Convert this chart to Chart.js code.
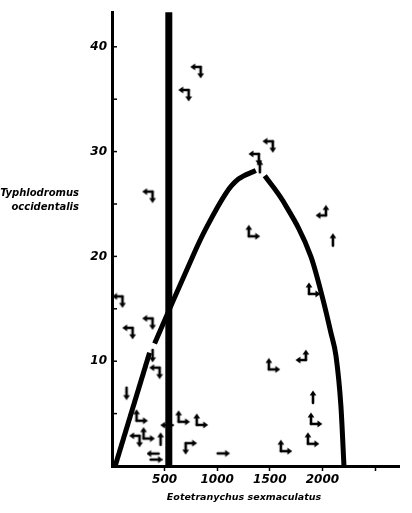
<!DOCTYPE html>
<html>
<head>
<meta charset="utf-8">
<script src="https://cdn.jsdelivr.net/npm/chart.js@4"></script>
<style>
body{margin:0;background:#fff}
canvas{display:block}
</style>
</head>
<body>
<canvas id="c" width="412" height="513"></canvas>
<script>
// prey (x) / predator (y) phase plot
var xTicks = [500, 1000, 1500, 2000, 2500];
var yTicks = [5, 10, 15, 20, 25, 30, 35, 40];

// curve pieces (broken where the direction arrows sit)
var riseX = [30, 357];
var riseY = [0, 10.8];
var capX = [405, 767, 890, 1081, 1205, 1367];
var capY = [11.7, 20, 22.6, 26.0, 27.4, 28.2];
var fallX = [1452, 1624, 1890, 2005, 2081, 2129, 2176, 2205];
var fallY = [27.7, 25.3, 20, 15.9, 12.7, 10.5, 5.7, 0];

// limit line on prey axis
var limitX = 540;

// observations with direction-of-change arrows
var markX = [814, 700, 357, 1367, 1500, 1405, 1338, 2005, 2100, 1910, 1529, 1814, 1910, 1929, 1643, 1900,
             71, 357, 167, 386, 424, 138, 271, 233, 338, 462, 405, 529, 671, 843, 738, 1052];
var markY = [37.7, 35.5, 25.8, 29.4, 30.6, 28.5, 22.3, 24.2, 21.5, 16.8, 9.6, 10.4, 6.5, 4.4, 1.8, 2.5,
             15.8, 13.7, 12.8, 10.6, 9.0, 7.0, 4.7, 2.5, 3.0, 2.5, 0.9, 3.9, 4.6, 4.3, 1.8, 1.2];
var markType = ['ld', 'ld', 'ld', 'ld', 'ld', 'u', 'ur', 'ul', 'u', 'ur', 'ur', 'ul', 'u', 'ur', 'ur', 'ur',
                'ld', 'ld', 'ld', 'd', 'ld', 'd', 'ur', 'ld', 'ur', 'u', 'lr', 'l', 'ur', 'ur', 'rd', 'r'];

function zip(xs, ys){ return xs.map(function(v, i){ return {x: v, y: ys[i]}; }); }

// arrow glyphs
function head(g, x, y, dir){
  var s = 3.4;
  g.beginPath();
  if(dir=='u'){ g.moveTo(x, y-s); g.lineTo(x-s, y+1.5); g.lineTo(x+s, y+1.5); }
  if(dir=='d'){ g.moveTo(x, y+s); g.lineTo(x-s, y-1.5); g.lineTo(x+s, y-1.5); }
  if(dir=='l'){ g.moveTo(x-s, y); g.lineTo(x+1.5, y-s); g.lineTo(x+1.5, y+s); }
  if(dir=='r'){ g.moveTo(x+s, y); g.lineTo(x-1.5, y-s); g.lineTo(x-1.5, y+s); }
  g.closePath(); g.fill();
}
function seg(g, x1, y1, x2, y2){ g.beginPath(); g.moveTo(x1, y1); g.lineTo(x2, y2); g.stroke(); }
function glyph(t){
  var c = document.createElement('canvas');
  c.width = 16; c.height = 16;
  var g = c.getContext('2d');
  g.strokeStyle = '#000'; g.fillStyle = '#000'; g.lineWidth = 2.6; g.lineCap = 'round';
  if(t=='ur'){ seg(g,4,12,4,5); head(g,4,4,'u'); seg(g,4,12,11,12); head(g,12,12,'r'); }
  if(t=='ld'){ seg(g,11,4,5,4); head(g,4,4,'l'); seg(g,11,4,11,11); head(g,11,12,'d'); }
  if(t=='ul'){ seg(g,11,11,11,5); head(g,11,4,'u'); seg(g,11,11,5,11); head(g,4,11,'l'); }
  if(t=='rd'){ seg(g,4,4,11,4); head(g,12,4,'r'); seg(g,4,4,4,11); head(g,4,12,'d'); }
  if(t=='lr'){ seg(g,4,5,12,5); head(g,3,5,'l'); seg(g,4,11,12,11); head(g,13,11,'r'); }
  if(t=='u'){ seg(g,8,13,8,5); head(g,8,4,'u'); }
  if(t=='d'){ seg(g,8,3,8,11); head(g,8,12,'d'); }
  if(t=='l'){ seg(g,13,8,5,8); head(g,4,8,'l'); }
  if(t=='r'){ seg(g,3,8,11,8); head(g,12,8,'r'); }
  return c;
}
var glyphs = {};
['ur','ld','ul','rd','lr','u','d','l','r'].forEach(function(t){ glyphs[t] = glyph(t); });

var lbFont = {family: 'DejaVu Sans', size: 12, style: 'italic', weight: 'bold'};

var extras = {
  id: 'extras',
  afterDraw: function(ch){
    var g = ch.ctx, y = ch.scales.y, a = ch.chartArea;
    g.save();
    g.strokeStyle = '#000'; g.lineWidth = 1.5;
    yTicks.forEach(function(v){
      var py = y.getPixelForValue(v);
      seg(g, a.left, py, a.left + 5, py);
    });
    g.fillStyle = '#000';
    g.font = 'italic bold 10px "DejaVu Sans"';
    g.textAlign = 'right';
    g.fillText('Typhlodromus', 79, 196);
    g.fillText('occidentalis', 79, 210);
    g.textAlign = 'center';
    g.font = 'italic bold 9.5px "DejaVu Sans"';
    g.fillText('Eotetranychus sexmaculatus', 244, 500);
    g.restore();
  }
};

var line = {showLine: true, pointRadius: 0, borderColor: '#000', fill: false};

new Chart(document.getElementById('c'), {
  type: 'scatter',
  data: {
    datasets: [
      Object.assign({data: zip(riseX, riseY), borderWidth: 5}, line),
      Object.assign({data: zip(capX, capY), borderWidth: 5, tension: 0.35}, line),
      Object.assign({data: zip(fallX, fallY), borderWidth: 5, cubicInterpolationMode: 'monotone'}, line),
      Object.assign({data: [{x: limitX, y: 0}, {x: limitX, y: 44}], borderWidth: 7}, line),
      {
        data: zip(markX, markY),
        pointStyle: function(ctx){ return glyphs[markType[ctx.dataIndex]]; },
        pointRadius: 8
      }
    ]
  },
  options: {
    responsive: false,
    animation: false,
    layout: {padding: {top: 12, right: 13, left: 0, bottom: 0}},
    plugins: {legend: {display: false}, tooltip: {enabled: false}},
    scales: {
      x: {
        type: 'linear', min: 0, max: 2728,
        afterBuildTicks: function(s){ s.ticks = xTicks.map(function(v){ return {value: v}; }); },
        afterFit: function(s){ s.height = 47; },
        ticks: {
          callback: function(v){ return v == 2500 ? '' : v; },
          font: lbFont, color: '#000', padding: 2, maxRotation: 0
        },
        grid: {drawOnChartArea: false, drawTicks: true, tickLength: 5, tickColor: '#000', tickWidth: 1.5},
        border: {width: 3, color: '#000'}
      },
      y: {
        type: 'linear', min: 0, max: 43.3,
        afterBuildTicks: function(s){ s.ticks = yTicks.map(function(v){ return {value: v}; }); },
        afterFit: function(s){ s.width = 112; },
        ticks: {
          callback: function(v){ return v % 10 == 0 ? v : ''; },
          font: lbFont, color: '#000', padding: 5
        },
        grid: {drawOnChartArea: false, drawTicks: false},
        border: {width: 3, color: '#000'}
      }
    }
  },
  plugins: [extras]
});
</script>
</body>
</html>
